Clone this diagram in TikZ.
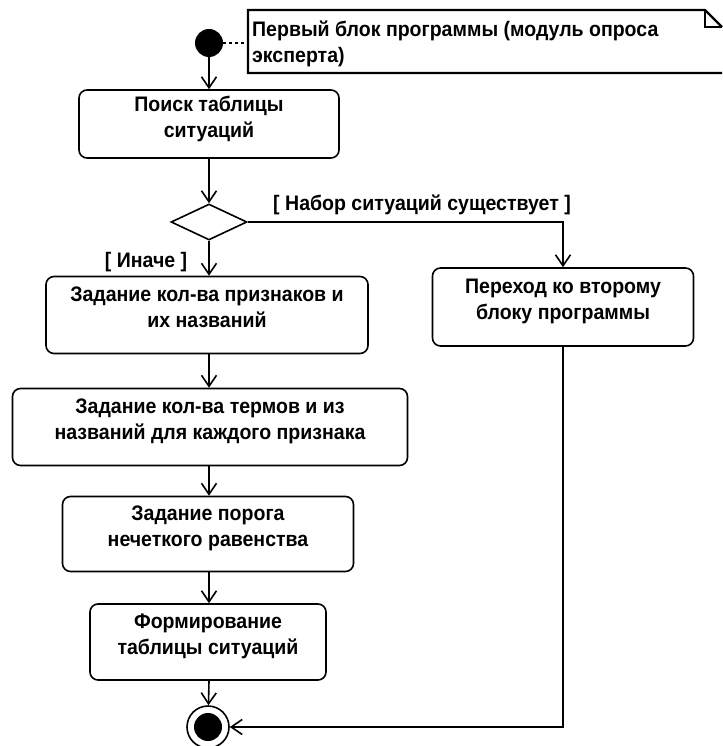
\documentclass[tikz,border=0pt]{standalone}
\usepackage{fontspec}
\setmainfont{Liberation Sans}[FakeStretch=0.93]
\usepackage{tikz}
\usetikzlibrary{arrows.meta,shapes.geometric}

\begin{document}
\begin{tikzpicture}[x=1pt,y=-1pt]
\tikzstyle{act}=[draw=black,line width=1.6pt,rounded corners=8pt,align=center,inner sep=0pt,font=\bfseries\fontsize{21}{26}\selectfont,execute at end node={\rule[-15pt]{0pt}{0pt}}]
\tikzstyle{flow}=[-{Straight Barb[length=11pt,width=15pt]},line width=1.6pt]
\tikzstyle{guard}=[font=\bfseries\fontsize{21}{26}\selectfont]
\tikzstyle{notep}=[dashed,line width=1.6pt]

\def\dotr{14}
\useasboundingbox (0,0) rectangle (722,746);
\fill[white] (0,0) rectangle (722,746);

% start and note
\node[circle,fill=black,minimum size=28pt,inner sep=0pt] (sStart) at (209,43) {};
\draw[line width=2.2pt] (722,73) -- (248,73) -- (248,10) -- (705,10) -- (722,27);
\draw[line width=1.4pt] (705,10) -- (705,27) -- (722,27);
\node[anchor=north west,align=left,guard,inner sep=0pt] (nNote) at (252,21) {Первый блок программы (модуль опроса\\эксперта)};
\coordinate (cNote) at (248,43);
\draw[notep] (sStart) -- (cNote);

% activities
\node[act,minimum width=260pt,minimum height=68pt] (bSearch) at (209,124) {Поиск таблицы\\ситуаций};
\node[diamond,draw=black,line width=1.6pt,minimum width=76pt,minimum height=36pt,inner sep=0pt] (dChoice) at (209,222) {};
\node[act,minimum width=322pt,minimum height=77pt] (bFeat) at (207,315) {Задание кол-ва признаков и\\их названий};
\node[act,minimum width=395pt,minimum height=77pt] (bTerms) at (210,427) {Задание кол-ва термов и из\\названий для каждого признака};
\node[act,minimum width=291pt,minimum height=75pt] (bThresh) at (208,534) {Задание порога\\нечеткого равенства};
\node[act,minimum width=236pt,minimum height=76pt] (bForm) at (208,642) {Формирование\\таблицы ситуаций};
\node[act,minimum width=261pt,minimum height=78pt] (bJump) at (563,307) {Переход ко второму\\блоку программы};

% end
\node[circle,draw=black,line width=1.6pt,minimum size=42pt,inner sep=0pt] (eEnd) at (208,727) {};
\fill (eEnd.center) circle (\dotr);

% guards
\node[guard] (gYes) at (422,205) {[ Набор ситуаций существует ]};
\node[guard] (gElse) at (146,262) {[ Иначе ]};

% flows
\draw[flow] (sStart) -- (bSearch);
\draw[flow] (bSearch) -- (dChoice);
\draw[flow] (dChoice) -- (bFeat.north -| dChoice);
\draw[flow] (dChoice.east) -| (bJump.north);
\draw[flow] (bFeat.south -| dChoice) -- (bTerms.north -| dChoice);
\draw[flow] (bTerms.south -| dChoice) -- (bThresh.north -| dChoice);
\draw[flow] (bThresh.south -| dChoice) -- (bForm.north -| dChoice);
\draw[flow] (bForm.south -| dChoice) -- (eEnd);
\draw[flow] (bJump.south) |- (eEnd.east);
\end{tikzpicture}
\end{document}
